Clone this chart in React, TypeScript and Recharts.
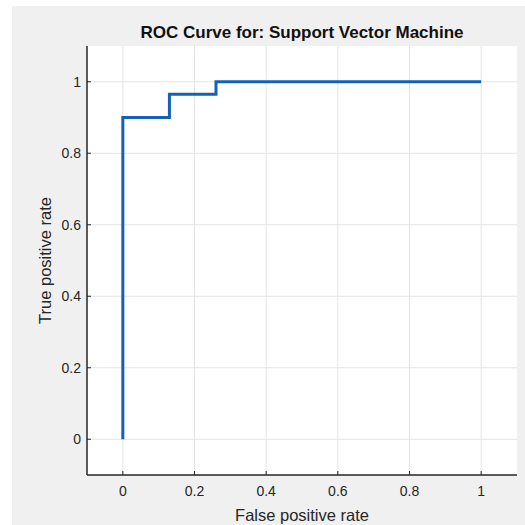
import { LineChart, Line, XAxis, YAxis, CartesianGrid, Label } from 'recharts';

const fpr = [0, 0, 0.13, 0.13, 0.26, 0.26, 1];
const tpr = [0, 0.9, 0.9, 0.965, 0.965, 1, 1];
const xTicks = [0, 0.2, 0.4, 0.6, 0.8, 1];
const yTicks = [0, 0.2, 0.4, 0.6, 0.8, 1];

const rocData = fpr.map((x, i) => ({ fpr: x, tpr: tpr[i] }));

const FONT = '"Liberation Sans", Arial, sans-serif';
const INK = '#262626';

const App = () => {
  return (
    <div style={{ position: 'absolute', left: 0, top: 0, width: 525, height: 525, background: '#fff', fontFamily: FONT }}>
      <div style={{ position: 'absolute', left: 12, top: 6, width: 513, height: 519, background: '#f0f0f0' }} />
      <div
        style={{
          position: 'absolute',
          left: 87,
          width: 430,
          top: 23,
          textAlign: 'center',
          fontSize: 17,
          fontWeight: 'bold',
          color: '#111',
        }}
      >
        ROC Curve for: Support Vector Machine
      </div>
      <div style={{ position: 'absolute', left: 0, top: 0 }}>
        <LineChart width={525} height={525} data={rocData} margin={{ top: 46, right: 8, bottom: 20, left: 47 }}>
          <CartesianGrid fill="#fff" stroke="#e4e4e4" horizontalValues={yTicks} verticalValues={xTicks} />
          <XAxis
            type="number"
            dataKey="fpr"
            domain={[-0.1, 1.1]}
            ticks={xTicks}
            height={30}
            axisLine={{ stroke: INK, strokeWidth: 1.5 }}
            tickLine={{ stroke: INK }}
            tickSize={-4}
            tick={{ fill: INK, fontSize: 14, fontFamily: FONT }}
            tickMargin={15}
          >
            <Label value="False positive rate" position="insideBottom" offset={-16} fill={INK} fontSize={16.5} fontFamily={FONT} />
          </XAxis>
          <YAxis
            type="number"
            domain={[-0.1, 1.1]}
            ticks={yTicks}
            width={40}
            axisLine={{ stroke: INK, strokeWidth: 1.5 }}
            tickLine={{ stroke: INK }}
            tickSize={-4}
            tick={{ fill: INK, fontSize: 14, fontFamily: FONT }}
            tickMargin={10}
          >
            <Label value="True positive rate" angle={-90} position="insideLeft" offset={-2} fill={INK} fontSize={16.5} fontFamily={FONT} style={{ textAnchor: 'middle' }} />
          </YAxis>
          <Line type="linear" dataKey="tpr" stroke="#1462b8" strokeWidth={3} dot={false} isAnimationActive={false} />
        </LineChart>
      </div>
    </div>
  );
};

export default App;
